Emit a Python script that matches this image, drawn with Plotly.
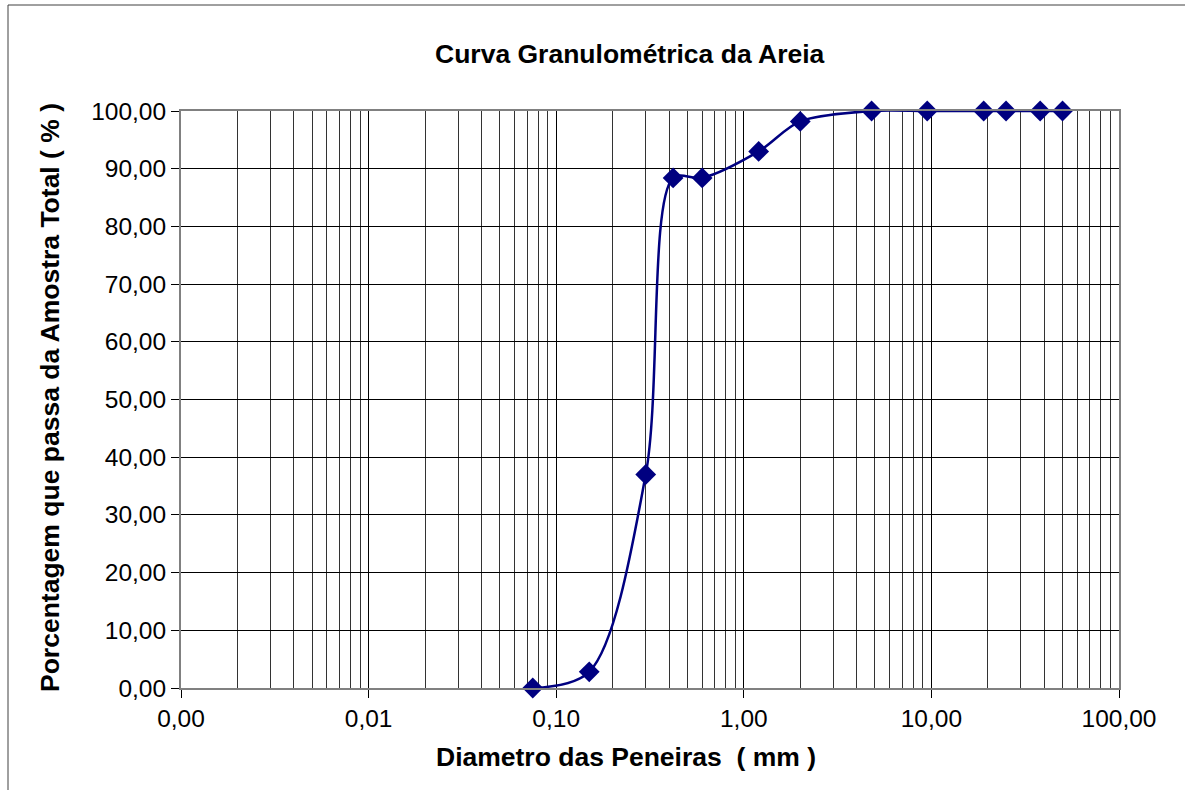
import plotly.graph_objects as go

# Data
diametro_mm = [0.075, 0.15, 0.3, 0.42, 0.6, 1.2, 2.0, 4.8, 9.5, 19, 25, 38, 50]
passante_pct = [0.0, 2.8, 37.0, 88.4, 88.4, 93.0, 98.2, 100.0, 100.0, 100.0, 100.0, 100.0, 100.0]

x_tickvals = [0.001, 0.01, 0.1, 1, 10, 100]
x_ticktext = ["0,00", "0,01", "0,10", "1,00", "10,00", "100,00"]
y_tickvals = [0, 10, 20, 30, 40, 50, 60, 70, 80, 90, 100]
y_ticktext = ["0,00", "10,00", "20,00", "30,00", "40,00", "50,00",
              "60,00", "70,00", "80,00", "90,00", "100,00"]

minor_vals = [m * 10 ** e for e in range(-3, 2) for m in range(2, 10)]

FONT = "Liberation Sans, Arial, sans-serif"
NAVY = "#000080"

fig = go.Figure()
fig.add_trace(go.Scatter(
    x=diametro_mm, y=passante_pct, mode="lines+markers",
    line=dict(color=NAVY, width=2.5, shape="spline", smoothing=0.9),
    marker=dict(symbol="diamond", size=16, color=NAVY),
    cliponaxis=False, showlegend=False,
))

L, R, T, B = 181, 66, 111, 102
W, H = 1185, 790
pw, ph = W - L - R, H - T - B

def px(X):
    return (X - L) / pw

def py(Y):
    return (H - B - Y) / ph

fig.update_layout(
    width=W, height=H,
    margin=dict(l=L, r=R, t=T, b=B, pad=0),
    paper_bgcolor="white", plot_bgcolor="white",
    font=dict(family=FONT, size=24, color="black"),
    xaxis=dict(
        type="log", range=[-3, 2], automargin=False,
        tickvals=x_tickvals, ticktext=x_ticktext,
        ticks="outside", ticklen=8, tickcolor="black", tickwidth=1,
        showgrid=True, gridcolor="black", gridwidth=1,
        minor=dict(tickvals=minor_vals, showgrid=True, gridcolor="#333333", gridwidth=1, ticks=""),
        showline=True, linecolor="#808080", linewidth=2, mirror=True,
        zeroline=False, tickfont=dict(size=24.5),
    ),
    yaxis=dict(
        range=[0, 100], automargin=False,
        tickvals=y_tickvals, ticktext=y_ticktext,
        ticks="outside", ticklen=8, tickcolor="black", tickwidth=1,
        showgrid=True, gridcolor="black", gridwidth=1,
        showline=True, linecolor="#808080", linewidth=2, mirror=True,
        zeroline=False, tickfont=dict(size=24.5),
    ),
    shapes=[dict(
        type="rect", xref="paper", yref="paper",
        x0=px(8), x1=px(1195), y0=py(800), y1=py(5),
        line=dict(color="#404040", width=1), fillcolor="rgba(0,0,0,0)", layer="below",
    )],
    annotations=[
        dict(text="<b>Curva Granulométrica da Areia</b>", xref="paper", yref="paper",
             x=px(629.5), y=py(54), xanchor="center", yanchor="middle",
             showarrow=False, font=dict(size=26.5, family=FONT)),
        dict(text="<b>Diametro das Peneiras  ( mm )</b>", xref="paper", yref="paper",
             x=px(626), y=py(757), xanchor="center", yanchor="middle",
             showarrow=False, font=dict(size=26.5, family=FONT)),
        dict(text="<b>Porcentagem que passa da Amostra Total ( % )</b>", xref="paper", yref="paper",
             x=px(50), y=py(398), xanchor="center", yanchor="middle", textangle=-90,
             showarrow=False, font=dict(size=26.5, family=FONT)),
    ],
)

fig.write_html("out.html")
